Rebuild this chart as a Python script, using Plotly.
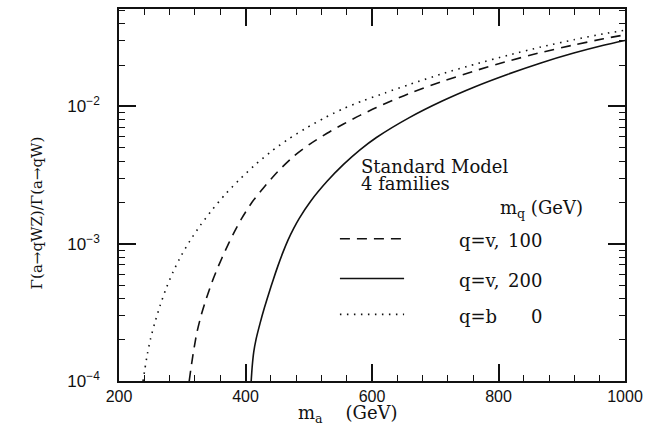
import plotly.graph_objects as go

# ---- data ----
x_solid = [409, 410.5, 413, 417, 423, 430, 437, 444, 451, 459, 467, 476, 485, 503, 529, 555, 581, 607,
           659, 711, 763, 815, 867, 919, 966, 1000]
y_solid = [1.000e-4, 1.259e-4, 1.622e-4, 2.042e-4, 2.630e-4, 3.428e-4, 4.365e-4, 5.495e-4, 6.839e-4, 8.610e-4,
           1.059e-3, 1.288e-3, 1.531e-3, 2.042e-3, 2.851e-3, 3.784e-3, 4.831e-3, 5.943e-3,
           8.299e-3, 1.096e-2, 1.393e-2, 1.718e-2, 2.075e-2, 2.449e-2, 2.793e-2, 3.027e-2]

x_dash = [311, 314, 318, 323, 330, 338, 347, 357, 368, 380, 394, 410, 428, 451, 477, 503, 529, 555, 581, 607,
          659, 711, 763, 815, 867, 919, 966, 1000]
y_dash = [1.000e-4, 1.259e-4, 1.660e-4, 2.239e-4, 3.020e-4, 3.981e-4, 5.248e-4, 6.839e-4, 8.913e-4, 1.161e-3,
          1.531e-3, 1.995e-3, 2.541e-3, 3.350e-3, 4.365e-3, 5.370e-3, 6.383e-3, 7.447e-3, 8.610e-3, 9.817e-3,
          1.245e-2, 1.521e-2, 1.820e-2, 2.138e-2, 2.472e-2, 2.805e-2, 3.112e-2, 3.327e-2]

x_dot = [238, 241, 245, 250, 257, 265, 275, 286, 298, 312, 328, 347, 368, 390, 414, 440, 467, 495, 525, 555,
         586, 620, 659, 711, 763, 815, 867, 919, 966, 1000]
y_dot = [1.000e-4, 1.230e-4, 1.585e-4, 2.042e-4, 2.692e-4, 3.548e-4, 4.786e-4, 6.310e-4, 8.128e-4, 1.047e-3,
         1.349e-3, 1.758e-3, 2.291e-3, 2.917e-3, 3.715e-3, 4.677e-3, 5.754e-3, 6.918e-3, 8.260e-3, 9.661e-3,
         1.102e-2, 1.253e-2, 1.445e-2, 1.730e-2, 2.032e-2, 2.360e-2, 2.710e-2, 3.062e-2, 3.381e-2, 3.589e-2]

x_ticks = [200, 400, 600, 800, 1000]
y_ticks = [1e-4, 1e-3, 1e-2]
y_ticktext = ["10<sup>\u22124</sup>", "10<sup>\u22123</sup>", "10<sup>\u22122</sup>"]
y_minor = [m * 10.0 ** e for e in (-4, -3, -2) for m in range(2, 10)]

legend_labels = ["q=v,", "q=v,", "q=b"]
legend_masses = ["100", "200", "0"]
legend_dashes = ["10px,7px", "solid", "1.5px,5.5px"]

INK = "#111111"
SERIF = "DejaVu Serif"
SANS = "Liberation Sans"

fig = go.Figure()
fig.add_trace(go.Scatter(x=x_dash, y=y_dash, mode="lines",
                         line=dict(color=INK, width=1.6, dash="10px,7px", shape="spline", smoothing=0.7)))
fig.add_trace(go.Scatter(x=x_solid, y=y_solid, mode="lines",
                         line=dict(color=INK, width=1.6, shape="spline", smoothing=0.7)))
fig.add_trace(go.Scatter(x=x_dot, y=y_dot, mode="lines",
                         line=dict(color=INK, width=1.6, dash="1.5px,5.5px", shape="spline", smoothing=0.7)))

fig.update_layout(
    width=650, height=429,
    margin=dict(l=119, r=18, t=7, b=48),
    paper_bgcolor="white", plot_bgcolor="white",
    showlegend=False,
)
fig.update_xaxes(
    range=[200, 1000], showgrid=False, zeroline=False,
    showline=True, linecolor=INK, linewidth=1.5, mirror="ticks",
    ticks="inside", ticklen=17, tickwidth=1.5, tickcolor=INK,
    tickvals=x_ticks, ticktext=[str(v) for v in x_ticks],
    tickfont=dict(family=SANS, size=16, color=INK), ticklabelstandoff=0,
    ticklabeloverflow="allow",
    minor=dict(ticks="inside", dtick=40, tick0=200, ticklen=6.5, tickwidth=1.2, tickcolor=INK, showgrid=False),
)
fig.update_yaxes(
    type="log", range=[-4, -1.29], showgrid=False, zeroline=False,
    showline=True, linecolor=INK, linewidth=1.5, mirror="ticks",
    ticks="inside", ticklen=17, tickwidth=1.5, tickcolor=INK,
    tickvals=y_ticks, ticktext=y_ticktext,
    tickfont=dict(family=SANS, size=17, color=INK), ticklabelstandoff=14,
    ticklabeloverflow="allow",
    minor=dict(ticks="inside", tickvals=y_minor, ticklen=6.5, tickwidth=1.2, tickcolor=INK, showgrid=False),
)

ann = []
ann.append(dict(text="m<sub>a</sub>    (GeV)", x=0.349, y=-0.088, xref="paper", yref="paper",
                xanchor="left", yanchor="middle", showarrow=False, font=dict(family=SERIF, size=18, color=INK)))
ann.append(dict(text="\u0393(a\u2192qWZ)/\u0393(a\u2192qW)", x=-0.163, y=0.452, xref="paper", yref="paper",
                xanchor="center", yanchor="middle", textangle=-90, showarrow=False,
                font=dict(family=SERIF, size=15, color=INK)))
ann.append(dict(text="Standard Model", x=0.4737, y=0.5775, xref="paper", yref="paper",
                xanchor="left", yanchor="middle", showarrow=False, font=dict(family=SERIF, size=18, color=INK)))
ann.append(dict(text="4 families", x=0.4737, y=0.532, xref="paper", yref="paper",
                xanchor="left", yanchor="middle", showarrow=False, font=dict(family=SERIF, size=18, color=INK)))
ann.append(dict(text="m<sub>q</sub> (GeV)", x=0.7485, y=0.4626, xref="paper", yref="paper",
                xanchor="left", yanchor="middle", showarrow=False, font=dict(family=SERIF, size=18, color=INK)))

shapes = []
leg_y = [0.377, 0.270, 0.1738]
line_y = [0.3824, 0.2754, 0.1791]
for lab, mass, dash, ty, ly in zip(legend_labels, legend_masses, legend_dashes, leg_y, line_y):
    ann.append(dict(text=lab, x=0.6686, y=ty, xref="paper", yref="paper", xanchor="left", yanchor="middle",
                    showarrow=False, font=dict(family=SERIF, size=18, color=INK)))
    ann.append(dict(text=mass, x=0.840, y=ty, xref="paper", yref="paper", xanchor="right", yanchor="middle",
                    showarrow=False, font=dict(family=SERIF, size=18, color=INK)))
    shapes.append(dict(type="line", xref="paper", yref="paper", x0=0.4366, x1=0.5634, y0=ly, y1=ly,
                       line=dict(color=INK, width=1.6, dash=dash)))

fig.update_layout(annotations=ann, shapes=shapes)
fig.write_html("out.html")
